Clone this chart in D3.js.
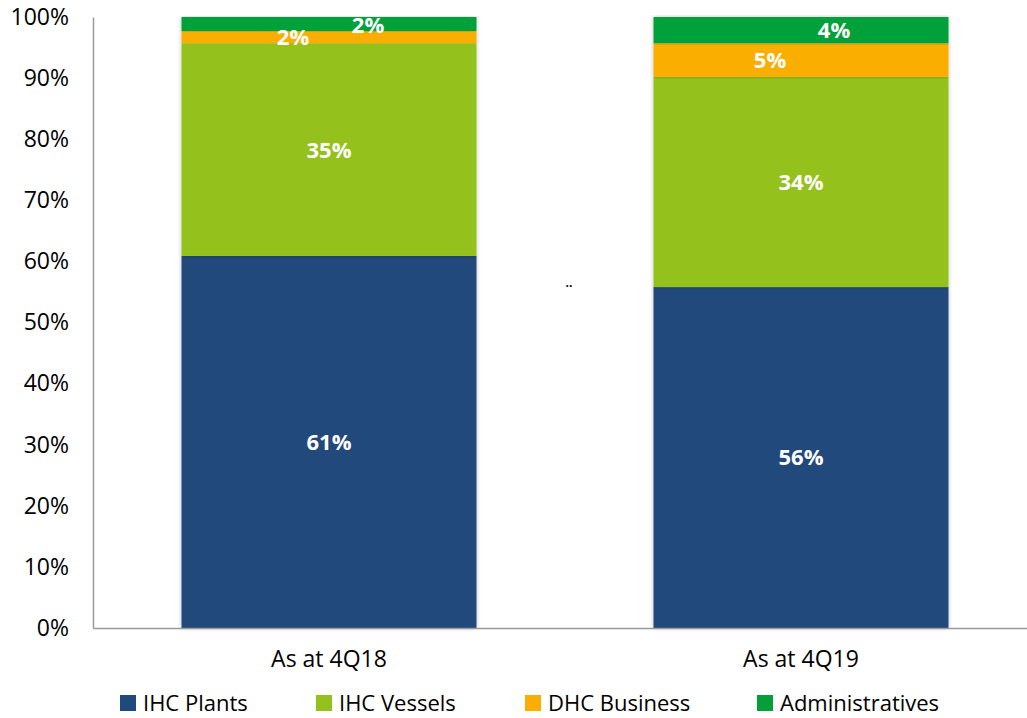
<!DOCTYPE html>
<html>
<head>
<meta charset="utf-8">
<script src="https://cdn.jsdelivr.net/npm/d3@7"></script>
<style>
	body { margin: 0; background: #fff; }
	svg text { font-family: "Open Sans", "Noto Sans", sans-serif; }
</style>
</head>
<body>
<div id="chart"></div>
<script>
const categories = ["As at 4Q18", "As at 4Q19"];
const seriesNames = ["IHC Plants", "IHC Vessels", "DHC Business", "Administratives"];
const ihcPlants = [60.9, 55.8];
const ihcVessels = [34.8, 34.4];
const dhcBusiness = [2.0, 5.5];
const administratives = [2.3, 4.3];
const valueLabels = [["61%", "56%"], ["35%", "34%"], ["2%", "5%"], ["2%", "4%"]];
const yTicks = [0, 10, 20, 30, 40, 50, 60, 70, 80, 90, 100];

const colors = ["#214a7c", "#95c11f", "#f9ae00", "#03a03a"];
// label shifts inside the thin segments (as in the original slide)
const labelShift = [[0, 0], [0, 0], [-36, -31], [39, 33]];
const labelDy = [[0, 0], [0, 0], [0, 0], [1, 0]];

const width = 1027, height = 718;
const svg = d3.select("#chart").append("svg")
	.attr("width", width)
	.attr("height", height);

const defs = svg.append("defs");
const f = defs.append("filter").attr("id", "shadow")
	.attr("x", "-5%").attr("y", "-5%").attr("width", "110%").attr("height", "110%");
f.append("feDropShadow").attr("dx", 0).attr("dy", 0).attr("stdDeviation", 2)
	.attr("flood-color", "#000").attr("flood-opacity", 0.25);

const x = d3.scaleBand().domain(categories).range([93, 1037])
	.paddingInner(0.375).paddingOuter(0.1875);
const y = d3.scaleLinear().domain([0, 100]).range([628, 17]);

const series = [ihcPlants, ihcVessels, dhcBusiness, administratives];
const table = categories.map((c, i) => {
	const row = { cat: c };
	seriesNames.forEach((s, j) => row[s] = series[j][i]);
	return row;
});
const stacked = d3.stack().keys(seriesNames)(table);

// bars
const groups = svg.selectAll(".layer")
	.data(stacked)
	.enter()
	.append("g")
	.attr("class", "layer")
	.attr("fill", (d, i) => colors[i]);

groups.selectAll("rect")
	.data(d => d)
	.enter()
	.append("rect")
	.attr("x", d => x(d.data.cat))
	.attr("width", x.bandwidth())
	.attr("y", d => y(d[1]))
	.attr("height", d => y(d[0]) - y(d[1]))
	.attr("filter", "url(#shadow)");

// value labels
stacked.forEach((layer, j) => {
	svg.selectAll(".lbl" + j)
		.data(layer)
		.enter()
		.append("text")
		.attr("class", "lbl" + j)
		.attr("x", (d, i) => x(d.data.cat) + x.bandwidth() / 2 + labelShift[j][i])
		.attr("y", (d, i) => y((d[0] + d[1]) / 2) + labelDy[j][i])
		.attr("dy", "0.36em")
		.attr("text-anchor", "middle")
		.attr("fill", "#fff")
		.attr("font-weight", "bold")
		.attr("font-size", "22px")
		.text((d, i) => valueLabels[j][i]);
});

// axes
const axisY = d3.axisLeft(y).tickValues(yTicks).tickSize(0).tickFormat(d => d + "%");
const gy = svg.append("g")
	.attr("transform", "translate(93,0)")
	.call(axisY);
gy.select(".domain").attr("stroke", "#9a9a9a").attr("stroke-width", 1.5);
gy.selectAll("text")
	.attr("x", -24)
	.attr("font-size", "23px")
	.attr("fill", "#000")
	.style("font-family", "'Open Sans', sans-serif");

const axisX = d3.axisBottom(x).tickSize(0);
const gx = svg.append("g")
	.attr("transform", "translate(0,628)")
	.call(axisX);
gx.select(".domain").attr("stroke", "#9a9a9a").attr("stroke-width", 1.5);
gx.selectAll("text")
	.attr("y", 23)
	.attr("dy", "0.71em")
	.attr("font-size", "23px")
	.attr("fill", "#000")
	.style("font-family", "'Open Sans', sans-serif");

// stray marks in the original
svg.append("text")
	.attr("x", 569).attr("y", 287)
	.attr("text-anchor", "middle")
	.attr("font-size", "12px")
	.attr("font-weight", "bold")
	.text("..");

// legend
const legendX = [120, 316, 525, 757];
const legend = svg.selectAll(".legend")
	.data(seriesNames)
	.enter()
	.append("g")
	.attr("class", "legend")
	.attr("transform", (d, i) => `translate(${legendX[i]},695)`);

legend.append("rect")
	.attr("width", 16).attr("height", 16)
	.attr("fill", (d, i) => colors[i]);

legend.append("text")
	.attr("x", 23)
	.attr("y", 8)
	.attr("dy", "0.36em")
	.attr("font-size", "22px")
	.attr("fill", "#000")
	.text(d => d);
</script>
</body>
</html>
